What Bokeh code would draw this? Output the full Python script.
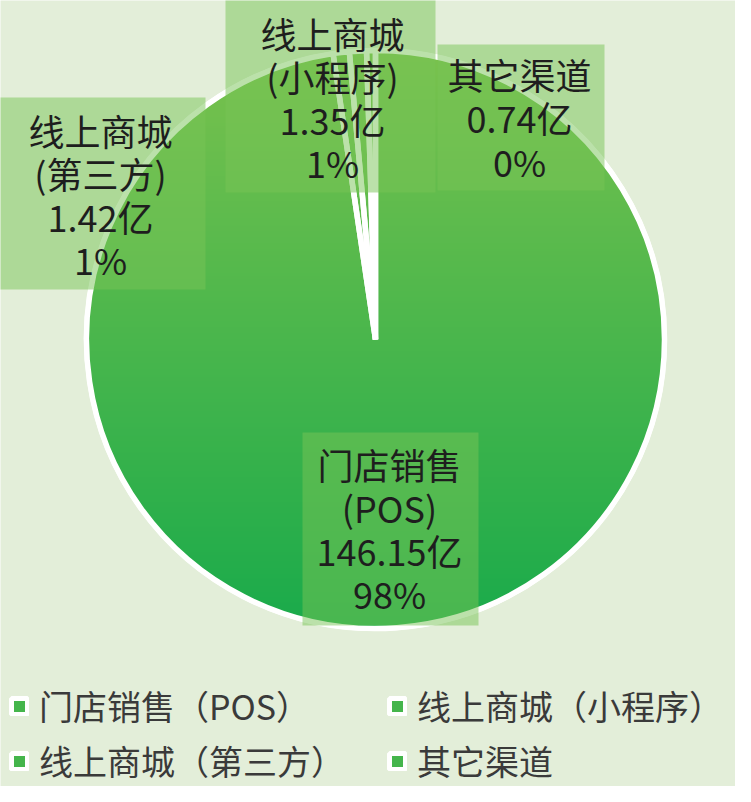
import numpy as np
from bokeh.plotting import figure
from bokeh.models import ColumnDataSource, Range1d, Legend, LegendItem
from bokeh.core.properties import value
from bokeh.embed import file_html
from bokeh.resources import INLINE

# ---- data ----
categories = ["门店销售（POS）", "线上商城（小程序）", "线上商城（第三方）", "其它渠道"]
label_names = ["门店销售\n(POS)", "线上商城\n(小程序)", "线上商城\n(第三方)", "其它渠道"]
sales = [146.15, 1.35, 1.42, 0.74]  # 亿元

# ---- layout constants (page pixels) ----
BG = "#e3eed9"
W, H = 735, 786
S = 289.0            # pixels per unit radius
CX, CY = 383, 347    # pie centre on the page
FONT = "Noto Sans CJK SC"

def dx(px):
    return (px - CX) / S

def dy(py):
    return (CY - py) / S

# label anchor centres and boxes (page px)
label_pos = [(397, 536), (340, 105), (108, 202), (527, 125)]
label_box = [(310, 486, 440, 633), (233, 443, 7, 200), (6, 213, 105, 297), (445, 612, 52, 198)]

vals = np.array(sales, dtype=float)
frac = vals / vals.sum()
cum = np.concatenate([[0.0], np.cumsum(frac)])
start = np.pi / 2 - 2 * np.pi * cum[:-1]
end = np.pi / 2 - 2 * np.pi * cum[1:]
pct = [f"{int(round(f * 100))}%" for f in frac]

p = figure(width=W, height=H, output_backend="svg", toolbar_location=None,
           x_range=Range1d(dx(8), dx(8 + W)), y_range=Range1d(dy(8 + H), dy(8)),
           x_axis_location=None, y_axis_location=None, min_border=0,
           background_fill_color=BG, border_fill_color=BG, outline_line_color=None)
p.grid.visible = False

wsrc = ColumnDataSource(dict(start=start, end=end, name=categories,
                             color=["#44b54b"] * len(sales)))
wr = p.wedge(x=0, y=0, radius=1, start_angle="start", end_angle="end", direction="clock",
             source=wsrc, fill_color="color", line_color="white", line_width=5)

# vertical gradient fill of the pie
N = 700
g = np.linspace(-1.0, 1.0, N)
xx, yy = np.meshgrid(g, g)
r = np.hypot(xx, yy)
alpha = np.clip((1 - r) * S + 0.5, 0, 1)
t = (1 - yy) / 2
top = np.array([122, 194, 78], dtype=float)
bot = np.array([26, 171, 75], dtype=float)
img = np.empty((N, N), dtype=np.uint32)
view = img.view(dtype=np.uint8).reshape((N, N, 4))
for k in range(3):
    view[..., k] = (top[k] * (1 - t) + bot[k] * t).astype(np.uint8)
view[..., 3] = (alpha * 255).astype(np.uint8)
p.image_rgba(image=[img], x=-1, y=-1, dw=2, dh=2)

# slice borders on top of the gradient
p.wedge(x=0, y=0, radius=1, start_angle="start", end_angle="end", direction="clock",
        source=wsrc, fill_alpha=0, line_color="white", line_width=5.5)

# label boxes
bsrc = ColumnDataSource(dict(
    left=[dx(b[0]) for b in label_box], right=[dx(b[1]) for b in label_box],
    top=[dy(b[2]) for b in label_box], bottom=[dy(b[3]) for b in label_box]))
p.quad(left="left", right="right", top="top", bottom="bottom", source=bsrc,
       fill_color="#78c355", fill_alpha=0.5, line_alpha=0)

texts = [f"{n}\n{v:.2f}亿\n{pc}" for n, v, pc in zip(label_names, sales, pct)]
tsrc = ColumnDataSource(dict(x=[dx(a) for a, _ in label_pos], y=[dy(b) for _, b in label_pos], text=texts))
p.text(x="x", y="y", text="text", source=tsrc, text_align="center", text_baseline="middle",
       text_font=value(FONT), text_font_size="36px", text_line_height=0.83, text_color="#1e1e1e")

# legend laid out column-major by Bokeh; order items so rows read as in the source
order = [0, 2, 1, 3]
legend = Legend(items=[LegendItem(label=categories[i], renderers=[wr], index=i) for i in order],
                ncols=2, location=(9, 1), margin=0, padding=0, spacing=6,
                glyph_width=20, glyph_height=20, label_standoff=10,
                label_height=40, label_width=342,
                label_text_font=FONT, label_text_font_size="34px", label_text_color="#3a3a3a",
                background_fill_alpha=0, border_line_alpha=0)
p.add_layout(legend)

open("out.html", "w").write(file_html(p, INLINE))
